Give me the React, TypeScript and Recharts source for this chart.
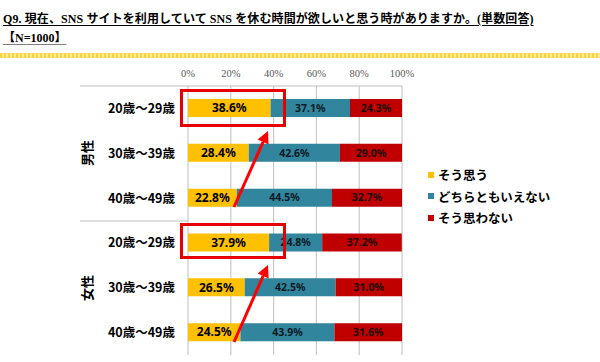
import React from "react";
import { BarChart, Bar, XAxis, YAxis, CartesianGrid, LabelList, Legend } from "recharts";

const groups = ["男性", "男性", "男性", "女性", "女性", "女性"];
const ageLabels = ["20歳～29歳", "30歳～39歳", "40歳～49歳", "20歳～29歳", "30歳～39歳", "40歳～49歳"];
const agree = [38.6, 28.4, 22.8, 37.9, 26.5, 24.5];
const neutral = [37.1, 42.6, 44.5, 24.8, 42.5, 43.9];
const disagree = [24.3, 29.0, 32.7, 37.2, 31.0, 31.6];
const xTicks = [0, 20, 40, 60, 80, 100];

const seriesNames = ["そう思う", "どちらともいえない", "そう思わない"];
const seriesColors = ["#FFC000", "#31859C", "#C00000"];

const data = ageLabels.map((label, i) => ({
  id: `${groups[i]}-${label}`,
  agree: agree[i],
  neutral: neutral[i],
  disagree: disagree[i],
}));

const pct = (v: any) => `${Number(v).toFixed(1)}%`;

const jp = '"Noto Sans CJK JP", "Noto Sans", sans-serif';

function LegendBox() {
  return (
    <div style={{ fontFamily: jp, fontWeight: 700, fontSize: 12.5, color: "#000" }}>
      {seriesNames.map((n, i) => (
        <div key={n} style={{ display: "flex", alignItems: "center", height: 21.5 }}>
          <span style={{ width: 6, height: 6, background: seriesColors[i], marginRight: 4 }} />
          <span>{n}</span>
        </div>
      ))}
    </div>
  );
}

function Arrow({ x1, y1, x2, y2 }: { x1: number; y1: number; x2: number; y2: number }) {
  const ang = Math.atan2(y2 - y1, x2 - x1);
  const len = 12;
  const w = 6;
  const bx = x2 - len * Math.cos(ang);
  const by = y2 - len * Math.sin(ang);
  const px = -Math.sin(ang) * w;
  const py = Math.cos(ang) * w;
  return (
    <g>
      <line x1={x1} y1={y1} x2={bx} y2={by} stroke="#FF0000" strokeWidth={3} />
      <polygon points={`${x2},${y2} ${bx + px},${by + py} ${bx - px},${by - py}`} fill="#FF0000" />
    </g>
  );
}

export default function App() {
  return (
    <div style={{ position: "absolute", left: 0, top: 0, width: 600, height: 362, background: "#fff", overflow: "hidden" }}>
      <div
        style={{
          position: "absolute",
          left: 3,
          top: 10,
          fontFamily: '"Liberation Serif", "Noto Sans CJK JP", serif',
          fontWeight: 700,
          fontSize: 12,
          lineHeight: "19px",
          color: "#000",
          whiteSpace: "nowrap",
        }}
      >
        <div style={{ textDecoration: "underline", textUnderlineOffset: 2, letterSpacing: 0.1 }}>
          Q9. 現在、SNS  サイトを利用していて  SNS  を休む時間が欲しいと思う時がありますか。(単数回答)
        </div>
        <div style={{ textDecoration: "underline", textDecorationColor: "#808080", textUnderlineOffset: 2 }}>【N=1000】</div>
      </div>
      <div
        style={{
          position: "absolute",
          left: 0,
          top: 53,
          width: 600,
          height: 5,
          background: "repeating-linear-gradient(90deg, #FFD23F 0 2px, #FFEB99 2px 4px)",
        }}
      />
      <div style={{ position: "absolute", left: 0, top: 0 }}>
        <BarChart
          width={600}
          height={362}
          data={data}
          layout="vertical"
          margin={{ top: 56, right: 198, left: 0, bottom: 7 }}
          barSize={18}
        >
          <CartesianGrid horizontal={false} stroke="#C8C8C8" strokeWidth={1.2} />
          <XAxis
            type="number"
            orientation="top"
            domain={[0, 100]}
            ticks={xTicks}
            allowDataOverflow
            tickFormatter={(v) => `${v}%`}
            axisLine={false}
            tickLine={false}
            tickSize={0}
            tickMargin={9}
            height={30}
            tick={{ fontSize: 10.5, fill: "#595959", fontFamily: '"Liberation Serif", serif' }}
          />
          <YAxis
            type="category"
            dataKey="id"
            width={188}
            axisLine={false}
            tickLine={false}
            tickSize={0}
            tickMargin={13}
            tickFormatter={(_v, i) => ageLabels[i]}
            tick={{ fontSize: 12.5, fill: "#000", fontWeight: 700, fontFamily: jp }}
          />
          <Legend
            layout="vertical"
            align="center"
            verticalAlign="middle"
            content={() => <LegendBox />}
            wrapperStyle={{ position: "absolute", left: 428, top: 164, width: 160, right: "auto", bottom: "auto" }}
          />
          <Bar dataKey="agree" name={seriesNames[0]} stackId="a" fill={seriesColors[0]} isAnimationActive={false}>
            <LabelList
              dataKey="agree"
              position="center"
              formatter={pct}
              style={{ fontSize: 12, fontWeight: 700, fill: "#000", fontFamily: '"Noto Sans", sans-serif' }}
            />
          </Bar>
          <Bar dataKey="neutral" name={seriesNames[1]} stackId="a" fill={seriesColors[1]} isAnimationActive={false}>
            <LabelList
              dataKey="neutral"
              position="center"
              formatter={pct}
              style={{ fontSize: 10.5, fontWeight: 700, fill: "#0B1A26", fontFamily: '"Noto Sans", sans-serif' }}
            />
          </Bar>
          <Bar dataKey="disagree" name={seriesNames[2]} stackId="a" fill={seriesColors[2]} isAnimationActive={false}>
            <LabelList
              dataKey="disagree"
              position="center"
              formatter={pct}
              style={{ fontSize: 10.5, fontWeight: 700, fill: "#1A0A0A", fontFamily: '"Noto Sans", sans-serif' }}
            />
          </Bar>
        </BarChart>
      </div>
      <svg width={600} height={362} style={{ position: "absolute", left: 0, top: 0, pointerEvents: "none" }}>
        <line x1={80} y1={86} x2={402} y2={86} stroke="#BFBFBF" strokeWidth={1.2} />
        <line x1={80} y1={221} x2={188} y2={221} stroke="#BFBFBF" strokeWidth={1.2} />
        <text x={86} y={153} transform="rotate(-90 86 153)" textAnchor="middle" dominantBaseline="central" fontFamily={jp} fontWeight={700} fontSize={13}>
          男性
        </text>
        <text x={86} y={288} transform="rotate(-90 86 288)" textAnchor="middle" dominantBaseline="central" fontFamily={jp} fontWeight={700} fontSize={13}>
          女性
        </text>
        <rect x={181.5} y={90.5} width={103} height={35} fill="none" stroke="#E60000" strokeWidth={3} />
        <rect x={181.5} y={224.5} width={103} height={33} fill="none" stroke="#E60000" strokeWidth={3} />
        <Arrow x1={234} y1={207} x2={268} y2={131} />
        <Arrow x1={234} y1={342} x2={268} y2={265} />
      </svg>
    </div>
  );
}
